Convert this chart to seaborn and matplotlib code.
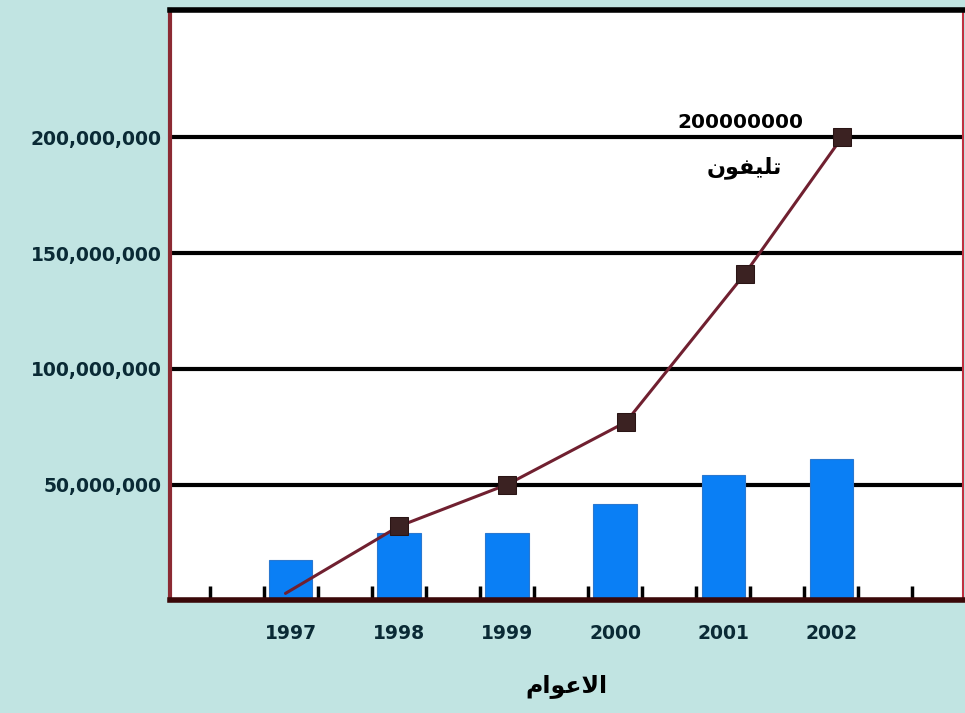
import numpy as np
import seaborn as sns
import matplotlib
matplotlib.use('Agg')
import matplotlib.pyplot as plt
from matplotlib.ticker import FuncFormatter

# data
years = [1997, 1998, 1999, 2000, 2001, 2002]
bar_vals = [17.5e6, 29e6, 29e6, 41.5e6, 54e6, 61e6]
line_years = [1996.95, 1998.0, 1999.0, 2000.1, 2001.2, 2002.1]
line_vals = [3e6, 32e6, 50e6, 77e6, 141e6, 200e6]
y_ticks = [50e6, 100e6, 150e6, 200e6]
peak_label = '200000000'
# Arabic written in presentation forms (visual order) because matplotlib does no shaping
peak_word = '\uFEE5\uFEEE\uFED4\uFEF4\uFEE0\uFE97'   # تليفون
x_title = '\uFEE1\uFE8D\uFEEE\uFECB\uFEFB\uFE8D'     # الاعوام

sns.set_style('white')
plt.rcParams['font.family'] = ['DejaVu Sans']

bg = '#c1e4e2'
fig = plt.figure(figsize=(9.65, 7.13), dpi=100, facecolor=bg)
ax = fig.add_axes([0.176, 0.158, 0.822, 0.828])
ax.set_facecolor('white')

sns.barplot(x=years, y=bar_vals, native_scale=True, width=0.4,
            color='#0a7ff5', saturation=1, edgecolor='#2a78d0', linewidth=0.8, ax=ax)
sns.lineplot(x=line_years, y=line_vals, color='#702030', linewidth=2.2,
             marker='s', markersize=13, markerfacecolor='#3b2222',
             markeredgecolor='#2a1515', markevery=list(range(1, 6)), ax=ax, zorder=5)

ax.set_xlim(1995.88, 2003.22)
ax.set_ylim(0, 255e6)

ax.set_yticks(y_ticks)
ax.yaxis.set_major_formatter(FuncFormatter(lambda v, p: f'{v:,.0f}'))
ax.grid(axis='y', color='black', linewidth=3)
ax.grid(axis='x', visible=False)
ax.set_axisbelow(True)
ax.tick_params(axis='y', left=False, length=0, pad=6, labelsize=13.5, labelcolor='#0a2a35')
for t in ax.get_yticklabels():
    t.set_fontweight('bold')

yrs = np.array(years, dtype=float)
minor = np.sort(np.concatenate([yrs - 0.25, yrs + 0.25, [yrs[0] - 0.75, yrs[-1] + 0.75]]))
ax.set_xticks(years)
ax.set_xticklabels([str(y) for y in years])
ax.set_xticks(minor, minor=True)
ax.tick_params(axis='x', which='major', bottom=True, length=0, pad=17,
               labelsize=13.5, labelcolor='#0a2a35')
ax.tick_params(axis='x', which='minor', bottom=True, direction='in',
               length=10, width=2.5, color='black')
for t in ax.get_xticklabels():
    t.set_fontweight('bold')

ax.spines['top'].set_color('black')
ax.spines['top'].set_linewidth(4)
ax.spines['left'].set_color('#8c2a33')
ax.spines['left'].set_linewidth(3)
ax.spines['right'].set_color('#c03040')
ax.spines['right'].set_linewidth(1.5)
ax.spines['bottom'].set_color('#3a0808')
ax.spines['bottom'].set_linewidth(4)

ax.set_xlabel(x_title, fontsize=17, fontweight='bold', color='black', labelpad=22)
ax.set_ylabel('')

ax.annotate(peak_label, xy=(line_years[-1], line_vals[-1]), xytext=(-28, 11),
            textcoords='offset points', ha='right', va='center',
            fontsize=14.5, fontweight='bold', color='black')
ax.annotate(peak_word, xy=(line_years[-1], line_vals[-1]), xytext=(-70, -22),
            textcoords='offset points', ha='center', va='center',
            fontsize=16, fontweight='bold', color='black')

fig.savefig('out.png', dpi=100, facecolor=bg)
